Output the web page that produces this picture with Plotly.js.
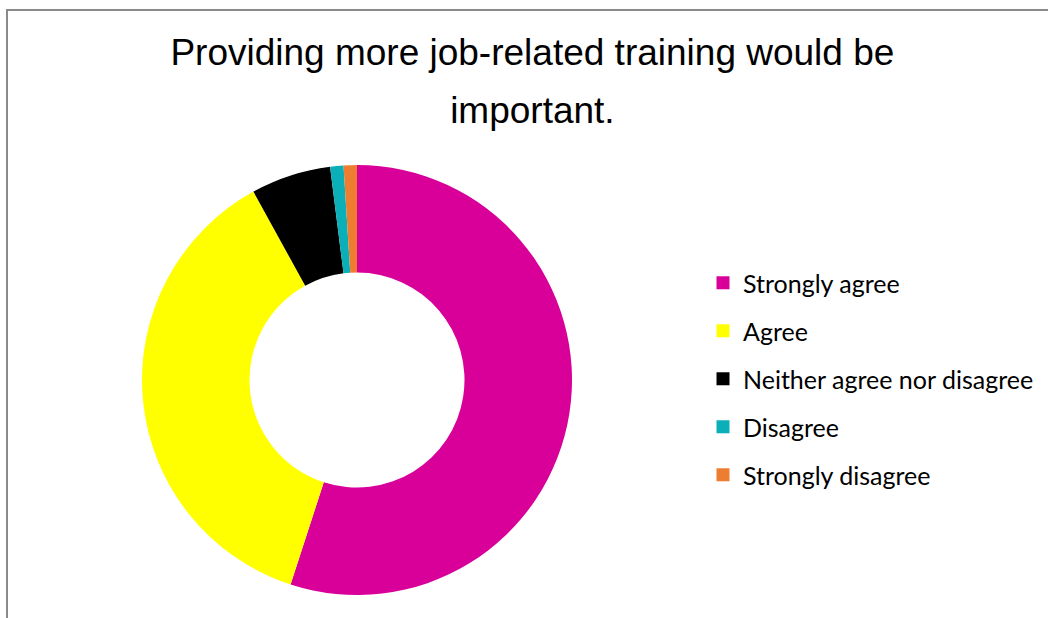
<!DOCTYPE html>
<html>
<head>
<meta charset="utf-8">
<script src="https://cdn.plot.ly/plotly-3.0.1.min.js"></script>
<style>
  html, body { margin: 0; padding: 0; background: #fff; overflow: hidden; }
  #wrap { position: relative; width: 1048px; height: 618px; }
  #chart { width: 1048px; height: 618px; }
  #frame { position: absolute; left: 6px; top: 9px; width: 1100px; height: 700px;
           border-top: 2px solid #8a8a8a; border-left: 2px solid #8a8a8a; pointer-events: none; }
</style>
</head>
<body>
<div id="wrap">
  <div id="chart"></div>
  <div id="frame"></div>
</div>
<script>
const titleText = "Providing more job-related training would be<br>important.";
const categories = ["Strongly agree", "Agree", "Neither agree nor disagree", "Disagree", "Strongly disagree"];
const values = [55, 37, 6, 1, 1];
const colors = ["#D9009A", "#FFFF00", "#000000", "#0AAFB8", "#ED7D31"];

const pieTrace = {
  type: "pie",
  labels: categories,
  values: values,
  hole: 0.5,
  sort: false,
  direction: "clockwise",
  rotation: 0,
  textinfo: "none",
  hoverinfo: "label+percent",
  showlegend: false,
  marker: { colors: colors, line: { width: 0 } },
  domain: { x: [0.1355, 0.5458], y: [0.0372, 0.733] }
};

// legend entries (one per category, same colours as the slices)
const legendTraces = categories.map((c, i) => ({
  type: "scatter",
  mode: "markers",
  x: [null],
  y: [null],
  name: c,
  legendgroup: "g" + i,
  showlegend: true,
  hoverinfo: "skip",
  marker: { symbol: "square", size: 13, color: colors[i], line: { width: 0 } }
}));

const layout = {
  width: 1048,
  height: 618,
  margin: { l: 0, r: 0, t: 0, b: 0 },
  paper_bgcolor: "#ffffff",
  plot_bgcolor: "rgba(0,0,0,0)",
  xaxis: { visible: false, showgrid: false, zeroline: false },
  yaxis: { visible: false, showgrid: false, zeroline: false },
  title: {
    text: titleText,
    x: 0.508,
    xanchor: "center",
    y: 0.8948,
    yanchor: "middle",
    font: { family: "Liberation Sans, Arial, sans-serif", size: 37, color: "#000000" }
  },
  showlegend: true,
  legend: {
    x: 0.6708,
    xanchor: "left",
    y: 0.3867,
    yanchor: "middle",
    tracegroupgap: 12.5,
    font: { family: "Lato, Noto Sans, sans-serif", size: 25, color: "#000000" },
    bgcolor: "rgba(0,0,0,0)",
    traceorder: "grouped"
  }
};

Plotly.newPlot("chart", [pieTrace].concat(legendTraces), layout, { displayModeBar: false, staticPlot: true })
  .then(function (gd) {
    // widen the title's line spacing to match the reference
    const lines = gd.querySelectorAll(".gtitle tspan.line");
    if (lines.length > 1) lines[1].setAttribute("dy", "1.568em");
  });
</script>
</body>
</html>
